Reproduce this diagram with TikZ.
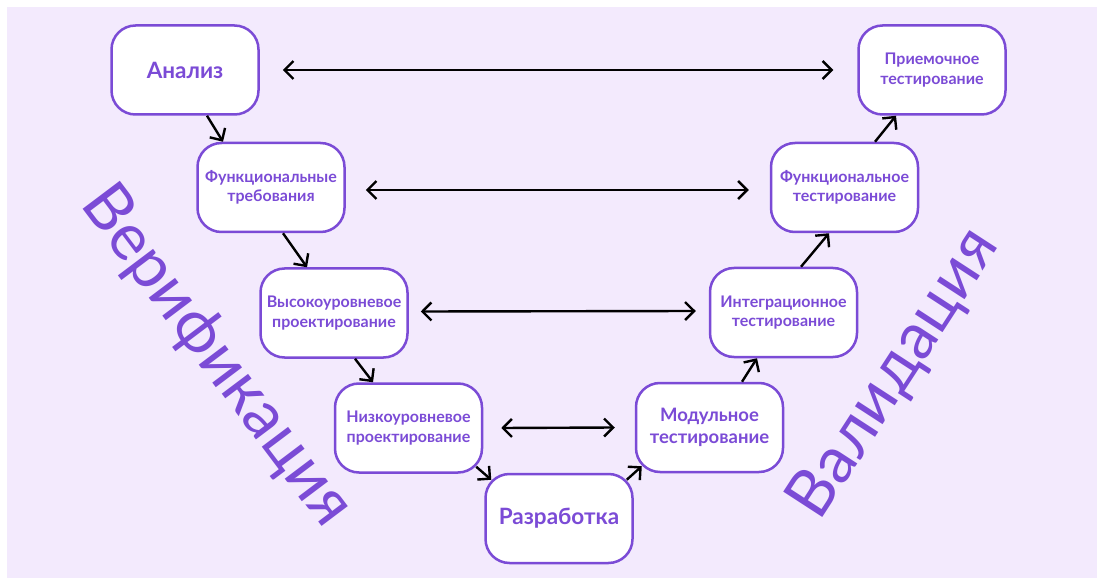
\documentclass[tikz,border=0pt]{standalone}
\usepackage{fontspec}
\setmainfont{Lato}
\usetikzlibrary{arrows.meta}
\definecolor{paper}{HTML}{F3EAFD}
\definecolor{vmodel}{HTML}{7B4BD6}

\begin{document}
\begin{tikzpicture}[x=1pt,y=-1pt,
  stage/.style={draw=vmodel, line width=2.5pt, fill=white,
    rounded corners=24pt, minimum width=147pt, minimum height=89pt,
    inner sep=0pt, align=center, text=vmodel},
  bigstage/.style={stage, font=\fontsize{22.5}{26}\selectfont\bfseries},
  midstage/.style={stage, font=\fontsize{18.5}{22}\selectfont\bfseries},
  smallstage/.style={stage, font=\fontsize{16}{19.5}\selectfont\bfseries},
  barb/.tip={Straight Barb[length=9pt,width=18pt]},
  flow/.style={-barb, line width=2.4pt, black},
  link/.style={barb-barb, line width=2.4pt, black},
  phase/.style={text=vmodel, font=\fontsize{65}{65}\selectfont, inner sep=0pt}]

% canvas
\fill[white] (0,0) rectangle (1098,580);
\fill[paper] (7,7) rectangle (1097,578);
\useasboundingbox (0,0) rectangle (1098,580);

% left branch
\node[bigstage]   (analysis) at (185,70)    {Анализ};
\node[smallstage] (ftreq)    at (271,187.5) {Функциональные\\требования};
\node[smallstage] (hld)      at (334,313)   {Высокоуровневое\\проектирование};
\node[smallstage] (lld)      at (408.5,428) {Низкоуровневое\\проектирование};
\node[bigstage]   (dev)      at (559,518.5) {Разработка};

% right branch
\node[midstage]   (unit)     at (709.5,427.5) {Модульное\\тестирование};
\node[smallstage] (integ)    at (783.5,312.5) {Интеграционное\\тестирование};
\node[smallstage] (ftest)    at (844.5,187.5) {Функциональное\\тестирование};
\node[smallstage] (accept)   at (932,70)      {Приемочное\\тестирование};

% phase labels
\node[phase, rotate=-53] (verif) at (216,357) {Верификация};
\node[phase, rotate=57]  (valid) at (895,374) {Валидация};

% descending chain
\draw[flow] ([xshift=22pt]analysis.south) -- ([xshift=-48pt]ftreq.north);
\draw[flow] ([xshift=12pt]ftreq.south) -- ([xshift=-27pt]hld.north);
\draw[flow] ([xshift=21pt]hld.south) -- ([xshift=-35.5pt]lld.north);
\draw[flow] ([shift={(-7,-7)}]lld.south east) -- ([shift={(7,7)}]dev.north west);

% ascending chain
\draw[flow] ([shift={(-7,7)}]dev.north east) -- ([shift={(7,-7)}]unit.south west);
\draw[flow] ([xshift=32.5pt]unit.north) -- ([xshift=-26.5pt]integ.south);
\draw[flow] ([xshift=17.5pt]integ.north) -- ([xshift=-15.5pt]ftest.south);
\draw[flow] ([xshift=30.5pt]ftest.north) -- ([xshift=-36pt]accept.south);

% correspondences between levels
\draw[link] ([xshift=23pt]analysis.east) -- ([xshift=-24pt]accept.west);
\draw[link] ([shift={(20,2.5)}]ftreq.east) -- ([shift={(-21,2.5)}]ftest.west);
\draw[link] ([shift={(12,-1.5)}]hld.east) -- ([shift={(-13,-1.5)}]integ.west);
\draw[link] ([xshift=18pt]lld.east) -- ([xshift=-20pt]unit.west);
\end{tikzpicture}
\end{document}
